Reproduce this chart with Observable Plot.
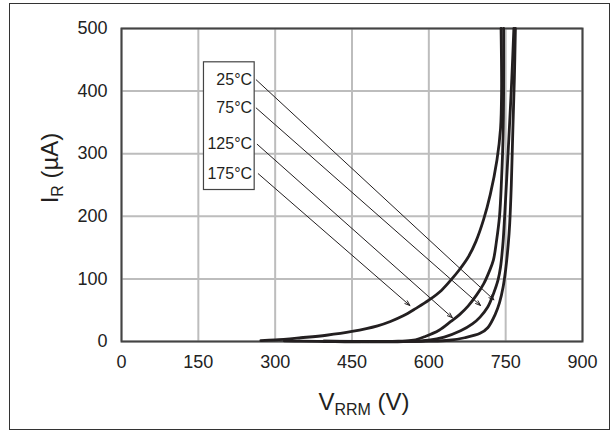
<!DOCTYPE html>
<html>
<head>
<meta charset="utf-8">
<script src="https://cdn.jsdelivr.net/npm/d3@7"></script>
<script src="https://cdn.jsdelivr.net/npm/@observablehq/plot@0.6"></script>
<style>
  html, body { margin: 0; padding: 0; background: #fff; }
  #wrap { position: relative; width: 611px; height: 432px; }
  #border { position: absolute; left: 9px; top: 3px; width: 601px; height: 427px; box-sizing: border-box; border: 1.5px solid #333; pointer-events: none; }
</style>
</head>
<body>
<div id="wrap"><div id="border"></div></div>
<script>
// ---- data ----
const xTicks = [0, 150, 300, 450, 600, 750, 900];
const yTicks = [0, 100, 200, 300, 400, 500];
const temps = ["25°C", "75°C", "125°C", "175°C"];

const v25 = [395, 500, 600, 640, 670, 700, 715, 730, 738, 745, 750, 755, 758, 761, 764, 767, 769];
const i25 = [0.5, 0, 0.5, 2, 6, 13, 22, 44, 62, 87, 115, 155, 190, 250, 337, 420, 500];

const v75 = [395, 450, 500, 550, 600, 630, 662, 685, 700, 715, 726, 735, 740, 745, 748, 752, 757, 762, 766];
const i75 = [0.5, 0, -0.5, 0, 2, 7, 17, 28, 39, 55, 76, 98, 119, 160, 200, 260, 337, 420, 500];

const v125 = [318, 350, 400, 450, 500, 540, 570, 593, 620, 643, 660, 677, 693, 707, 718, 726, 732, 738, 742, 745, 746, 746];
const i125 = [1, 0.5, 0, -0.5, 0, 0.5, 2, 8, 18, 32, 43, 57, 74, 92, 112, 130, 160, 200, 260, 330, 400, 500];

const v175 = [272, 300, 350, 400, 450, 500, 525, 550, 575, 600, 625, 645, 660, 677, 692, 707, 720, 733, 740, 742, 741];
const i175 = [1.5, 2.5, 6, 10, 16, 25, 32, 41, 53, 66, 82, 100, 115, 135, 160, 195, 235, 290, 340, 400, 500];

// annotation arrows (label -> curve), in data units
const arrowStartV = [263, 263, 265, 267];
const arrowStartI = [418, 373, 315, 268];
const arrowEndV = [727, 701, 646, 563];
const arrowEndI = [66.6, 57.5, 38, 57.5];

// label box extent, in data units
const boxV = [161, 260];
const boxI = [242, 446];
const labelV = 255;

// ---- build tables ----
const seriesV = [v25, v75, v125, v175];
const seriesI = [i25, i75, i125, i175];
const curves = temps.flatMap((t, k) => seriesV[k].map((v, j) => ({temp: t, v, i: seriesI[k][j]})));
const arrows = temps.map((t, k) => ({temp: t, x1: arrowStartV[k], y1: arrowStartI[k], x2: arrowEndV[k], y2: arrowEndI[k]}));
const labels = temps.map((t, k) => ({temp: t, v: labelV, i: arrowStartI[k]}));
const box = [{x1: boxV[0], x2: boxV[1], y1: boxI[0], y2: boxI[1]}];

const ink = "#231f20";

const chart = Plot.plot({
  width: 611,
  height: 432,
  marginLeft: 121,
  marginRight: 29,
  marginTop: 28,
  marginBottom: 91,
  style: {fontFamily: "'Liberation Sans', Arial, sans-serif", fontSize: "18px", color: "#222", background: "transparent"},
  x: {domain: [0, 900]},
  y: {domain: [0, 500]},
  marks: [
    Plot.gridX(xTicks, {stroke: "#bdbdbd", strokeOpacity: 1, strokeWidth: 2}),
    Plot.gridY(yTicks, {stroke: "#bdbdbd", strokeOpacity: 1, strokeWidth: 2}),
    Plot.frame({stroke: "#444", strokeWidth: 2}),
    Plot.axisX({ticks: xTicks, tickSize: 0, tickPadding: 14, label: null, fill: "#222"}),
    Plot.axisY({ticks: yTicks, tickSize: 0, tickPadding: 14, label: null, fill: "#222"}),
    Plot.rect(box, {x1: "x1", x2: "x2", y1: "y1", y2: "y2", fill: "white", stroke: "#444", strokeWidth: 1.2}),
    Plot.text(labels, {x: "v", y: "i", text: "temp", textAnchor: "end", fontSize: 16, fill: ink}),
    Plot.arrow(arrows, {x1: "x1", y1: "y1", x2: "x2", y2: "y2", stroke: ink, strokeWidth: 1, headLength: 8, headAngle: 40}),
    Plot.line(curves, {x: "v", y: "i", z: "temp", stroke: ink, strokeWidth: 2.8, curve: "catmull-rom"})
  ]
});

const svg = d3.select(chart);
// x axis title with subscript
const xt = svg.append("text")
  .attr("x", 364).attr("y", 410)
  .attr("text-anchor", "middle")
  .attr("font-size", 24).attr("fill", ink);
xt.append("tspan").text("V");
xt.append("tspan").attr("font-size", 16).attr("dy", 5).text("RRM");
xt.append("tspan").attr("dy", -5).text(" (V)");

// y axis title with subscript
const yt = svg.append("text")
  .attr("transform", "translate(58,168) rotate(-90)")
  .attr("text-anchor", "middle")
  .attr("font-size", 24).attr("fill", ink);
yt.append("tspan").text("I");
yt.append("tspan").attr("font-size", 16).attr("dy", 5).text("R");
yt.append("tspan").attr("dy", -5).text(" (µA)");

document.getElementById("wrap").appendChild(chart);
chart.style.position = "absolute";
chart.style.left = "0px";
chart.style.top = "0px";
</script>
</body>
</html>
